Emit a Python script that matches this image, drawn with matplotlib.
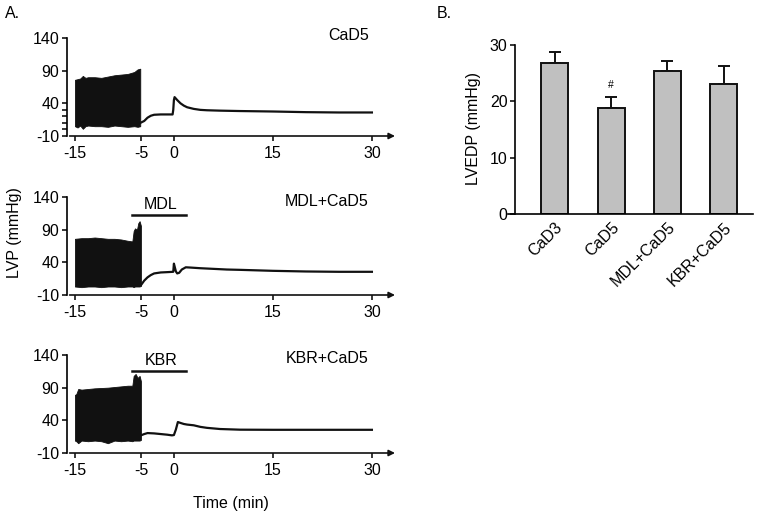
import matplotlib
matplotlib.use("Agg")
import matplotlib.pyplot as plt

plt.rcParams['font.family'] = ['Liberation Sans', 'DejaVu Sans']
plt.rcParams['font.size'] = 11.5
plt.rcParams['axes.unicode_minus'] = False

# panel A: LVP traces (envelope of the beating period, then the arrested trace)
beat_t1 = [-15, -14.6, -14.2, -13.8, -13.4, -13, -12, -11, -10, -9, -8, -7, -6, -5.5, -5.1]
beat_hi1 = [76, 77, 78, 82, 79, 80, 80, 79, 81, 83, 84, 85, 88, 92, 93]
beat_lo1 = [5, 3, 6, 1, 5, 6, 5, 5, 4, 6, 5, 4, 5, 4, 5]
trace_t1 = [-5.1, -4.5, -4, -3.5, -3, -2, -1, -0.2, -0.1, 0, 0.1, 0.5, 1, 1.5, 2, 3, 4, 5, 7, 10, 15, 20, 25, 30]
trace_v1 = [10, 13, 18, 21, 22.5, 23, 23, 23, 30, 45, 49.5, 45, 40, 36.5, 34, 31.5, 30, 29.4, 28.8, 28.2, 27.5, 26.5, 26, 26]

beat_t2 = [-15, -14, -13, -12, -11, -10, -9, -8, -7, -6.3, -6.1, -5.9, -5.6, -5.4, -5.2, -5.0]
beat_hi2 = [76, 77, 77, 78, 77, 76, 76, 75, 73, 72, 88, 92, 90, 100, 103, 96]
beat_lo2 = [3, 2, 3, 3, 2, 3, 3, 2, 3, 3, 2, 3, 3, 3, 3, 4]
trace_t2 = [-5, -4.5, -4, -3.5, -3, -2, -1, -0.1, 0, 0.1, 0.3, 0.5, 0.8, 1.2, 1.8, 2.5, 4, 6, 8, 10, 15, 20, 25, 30]
trace_v2 = [5, 12, 17, 20.5, 23, 24.5, 25, 25.5, 38, 34, 26, 23, 24, 29, 32.4, 32, 31, 30, 29, 28.5, 27, 26, 25.5, 25.5]

beat_t3 = [-15, -14.8, -14.5, -14, -13, -12, -11, -10, -9, -8, -7, -6.3, -6.1, -5.8, -5.5, -5.2, -5.0]
beat_hi3 = [79, 80, 88, 87, 88, 89, 89.5, 90, 91, 92, 93, 93, 108, 111, 105, 108, 100]
beat_lo3 = [9, 8, 5, 9, 8, 9, 8, 5, 9, 8, 9, 8, 9, 9, 9, 9, 10]
trace_t3 = [-5, -4.5, -4, -3, -2, -1, -0.3, 0, 0.3, 0.6, 1, 1.5, 2, 3, 4, 5, 7, 10, 15, 20, 25, 30]
trace_v3 = [17, 19, 20.5, 20, 19, 18, 17, 17.5, 26, 37.4, 36, 34.4, 33.5, 32.4, 30, 28.5, 26.7, 25.7, 25.5, 25.5, 25.5, 25.5]

panel_titles = ['CaD5', 'MDL+CaD5', 'KBR+CaD5']
drug_names = [None, 'MDL', 'KBR']
drug_t = [-6.3, 1.8]
drug_level = [None, 112, 115]
title_y = [144, 133, 135]

# panel B: LVEDP
groups = ['CaD3', 'CaD5', 'MDL+CaD5', 'KBR+CaD5']
lvedp = [26.8, 18.8, 25.4, 23.0]
lvedp_sem = [1.9, 2.0, 1.7, 3.3]

W, H = 759, 513
fig = plt.figure(figsize=(W / 100, H / 100), dpi=100)

beats = [(beat_t1, beat_hi1, beat_lo1), (beat_t2, beat_hi2, beat_lo2), (beat_t3, beat_hi3, beat_lo3)]
traces = [(trace_t1, trace_v1), (trace_t2, trace_v2), (trace_t3, trace_v3)]
bottoms = [136, 295, 453]

for i in range(3):
    ax = fig.add_axes([67 / W, 1 - bottoms[i] / H, 328 / W, 98 / H])
    bt, hi, lo = beats[i]
    ax.fill_between(bt, lo, hi, color='#111111', lw=0.6, edgecolor='#111111')
    tt, tv = traces[i]
    ax.plot(tt, tv, color='#111111', lw=1.6)
    ax.set_xlim(-16.2, 33.5)
    ax.set_ylim(-10, 140)
    ax.set_yticks([-10, 40, 90, 140])
    ax.set_xticks([-15, -5, 0, 15, 30])
    if i == 0:
        ax.set_yticks([0, 10, 20, 30], minor=True)
        ax.tick_params(axis='y', which='minor', length=3.5, width=1.1)
    for s in ['top', 'right', 'bottom']:
        ax.spines[s].set_visible(False)
    ax.spines['left'].set_linewidth(1.2)
    ax.tick_params(length=3.5, width=1.1, pad=2)
    ax.tick_params(axis='x', pad=4)
    ax.annotate('', xy=(33.5, -10), xytext=(-15.8, -10),
                arrowprops=dict(arrowstyle='-|>', lw=1.2, color='#111111', mutation_scale=9,
                                shrinkA=0, shrinkB=0),
                annotation_clip=False)
    ax.text(29.5, title_y[i], panel_titles[i], ha='right', va='center')
    if drug_names[i]:
        ax.plot(drug_t, [drug_level[i]] * 2, color='#111111', lw=1.8, clip_on=False)
        ax.text(-2.0, drug_level[i] + 5, drug_names[i], ha='center', va='bottom')
    if i == 2:
        ax.set_xlabel('Time (min)', labelpad=13)

fig.text(15 / W, 1 - 233 / H, 'LVP (mmHg)', rotation=90, ha='center', va='center')
fig.text(5 / W, 1 - 13 / H, 'A.', ha='left', va='center')
fig.text(437 / W, 1 - 13 / H, 'B.', ha='left', va='center')

# panel B
bx = fig.add_axes([508 / W, 1 - 214 / H, 245 / W, 171.8 / H])
xs = range(len(groups))
bx.bar(xs, lvedp, width=0.48, color='#c0c0c0', edgecolor='#111111', lw=1.4, zorder=2)
bx.errorbar(xs, lvedp, yerr=[[0] * 4, lvedp_sem], fmt='none', ecolor='#111111',
            elinewidth=1.4, capsize=4.5, capthick=1.4, zorder=1)
bx.text(1, lvedp[1] + lvedp_sem[1] + 1.3, '#', ha='center', va='bottom', fontsize=7.5)
bx.set_xlim(-0.835, 3.52)
bx.set_ylim(0, 30.5)
bx.set_yticks([0, 10, 20, 30])
bx.spines['left'].set_position(('data', -0.71))
bx.spines['left'].set_bounds(0, 30)
for s in ['top', 'right']:
    bx.spines[s].set_visible(False)
bx.spines['left'].set_linewidth(1.2)
bx.spines['bottom'].set_linewidth(1.2)
bx.tick_params(axis='y', length=3.5, width=1.1, pad=2)
bx.tick_params(axis='x', length=0, pad=4)
bx.set_xticks(list(xs))
bx.set_xticklabels(groups, rotation=45, ha='right', rotation_mode='anchor')
bx.set_ylabel('LVEDP (mmHg)', labelpad=6)

plt.savefig('out.png', dpi=100)
